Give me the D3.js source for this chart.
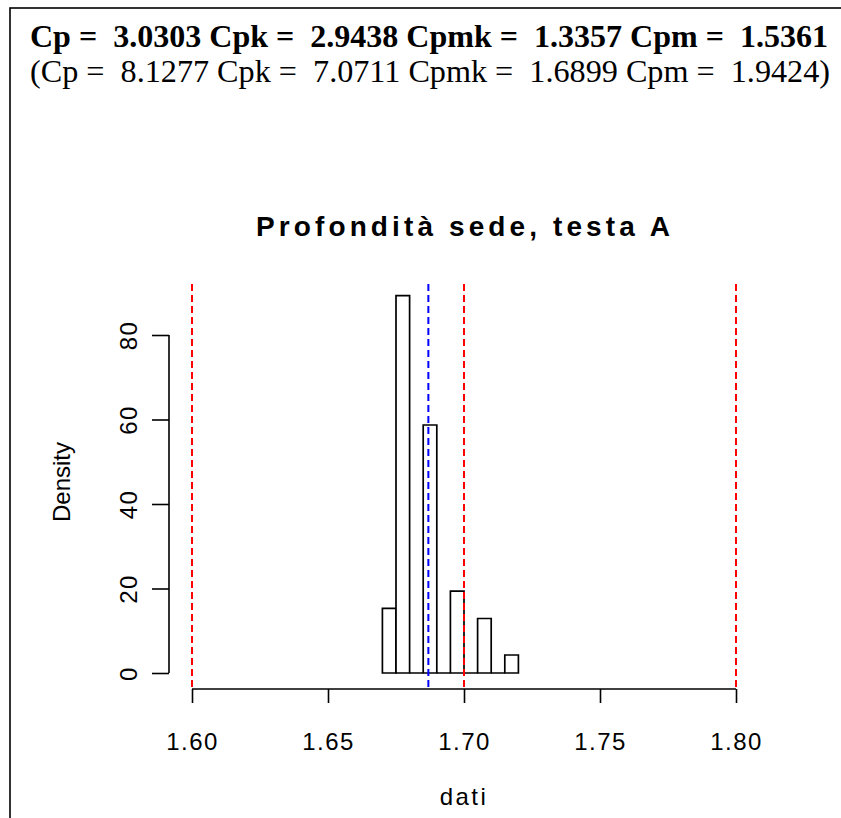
<!DOCTYPE html>
<html>
<head>
<meta charset="utf-8">
<script src="https://cdn.jsdelivr.net/npm/d3@7"></script>
<style>
  html, body { margin: 0; padding: 0; background: #fff; }
  svg { display: block; }
</style>
</head>
<body>
<svg id="chart" width="841" height="818"></svg>
<script>
// Histogram bins (lower edges) and their densities
const binStarts = [1.670, 1.675, 1.680, 1.685, 1.690, 1.695, 1.700, 1.705, 1.710, 1.715];
const binWidth = 0.005;
const densities = [15.3, 89.3, 0, 58.7, 0, 19.4, 0, 12.9, 0, 4.26];

// Specification limits and target (red), process mean (blue)
const specLines = [1.60, 1.70, 1.80];
const meanLine = [1.6869];

// Axis ticks
const xTicks = [1.60, 1.65, 1.70, 1.75, 1.80];
const yTicks = [0, 20, 40, 60, 80];

// Capability indices shown in the header
const headerLine1 = "Cp =  3.0303 Cpk =  2.9438 Cpmk =  1.3357 Cpm =  1.5361";
const headerLine2 = "(Cp =  8.1277 Cpk =  7.0711 Cpmk =  1.6899 Cpm =  1.9424)";
const title = "Profondità sede, testa A";
const xLabel = "dati";
const yLabel = "Density";

const svg = d3.select("#chart");

// Outer frame
svg.append("rect")
  .attr("x", 10).attr("y", 8)
  .attr("width", 900).attr("height", 900)
  .attr("fill", "none").attr("stroke", "#000").attr("stroke-width", 1.6);

// Header text
const serif = "'Liberation Serif', 'Times New Roman', serif";
svg.append("text")
  .attr("x", 30).attr("y", 47)
  .attr("font-family", serif)
  .attr("font-weight", "bold").attr("font-size", 31)
  .attr("textLength", 798).attr("lengthAdjust", "spacingAndGlyphs")
  .style("white-space", "pre")
  .text(headerLine1);
svg.append("text")
  .attr("x", 30).attr("y", 82)
  .attr("font-family", serif)
  .attr("font-size", 31)
  .attr("textLength", 800).attr("lengthAdjust", "spacingAndGlyphs")
  .style("white-space", "pre")
  .text(headerLine2);

// Scales
const x = d3.scaleLinear().domain([1.60, 1.80]).range([192, 736]);
const y = d3.scaleLinear().domain([0, 80]).range([673, 335]);
const plotTop = 284, plotBottom = 689;

const sans = "'Liberation Sans', Arial, Helvetica, sans-serif";

// Title
svg.append("text")
  .attr("x", 463).attr("y", 236)
  .attr("text-anchor", "middle")
  .attr("font-family", sans).attr("font-weight", "bold").attr("font-size", 28)
  .attr("textLength", 414).attr("lengthAdjust", "spacing")
  .text(title);

// Histogram bars (drawn as outlines so empty bins show as a baseline segment)
svg.append("g").selectAll("path")
  .data(binStarts.map((b, i) => ({ x0: b, x1: b + binWidth, d: densities[i] })))
  .join("path")
  .attr("d", d => `M${x(d.x0)},${y(0)}V${y(d.d)}H${x(d.x1)}V${y(0)}Z`)
  .attr("fill", "#fff")
  .attr("stroke", "#000")
  .attr("stroke-width", 1.7);

// Reference lines
svg.append("g").selectAll("line")
  .data(specLines)
  .join("line")
  .attr("x1", d => x(d)).attr("x2", d => x(d))
  .attr("y1", plotTop).attr("y2", plotBottom)
  .attr("stroke", "#ff0000").attr("stroke-width", 2)
  .attr("stroke-dasharray", "7,4");
svg.append("g").selectAll("line")
  .data(meanLine)
  .join("line")
  .attr("x1", d => x(d)).attr("x2", d => x(d))
  .attr("y1", plotTop).attr("y2", plotBottom)
  .attr("stroke", "#0000ff").attr("stroke-width", 2)
  .attr("stroke-dasharray", "7,4");

// X axis
const xAxis = svg.append("g")
  .attr("transform", `translate(0,${plotBottom})`)
  .call(d3.axisBottom(x).tickValues(xTicks).tickFormat(d3.format(".2f"))
    .tickSize(14).tickSizeOuter(0).tickPadding(47));
xAxis.selectAll("path, line").attr("stroke", "#000").attr("stroke-width", 1.6);
xAxis.selectAll("text")
  .attr("font-family", sans).attr("font-size", 24)
  .attr("letter-spacing", 1.5).attr("fill", "#000").attr("dy", 0);
xAxis.select(".domain").attr("d", `M${x(1.60)},0H${x(1.80)}`);

// Y axis
const yAxis = svg.append("g")
  .attr("transform", "translate(169,0)")
  .call(d3.axisLeft(y).tickValues(yTicks).tickSize(17).tickSizeOuter(0));
yAxis.selectAll("path, line").attr("stroke", "#000").attr("stroke-width", 1.6);
yAxis.select(".domain").attr("d", `M0,${y(0)}V${y(80)}`);
yAxis.selectAll("text").remove();
yAxis.selectAll(".tick").append("text")
  .attr("transform", "translate(-32,0) rotate(-90)")
  .attr("text-anchor", "middle")
  .attr("font-family", sans).attr("font-size", 24)
  .attr("letter-spacing", 1.5).attr("fill", "#000")
  .text(d => d);

// Axis titles
svg.append("text")
  .attr("x", 464).attr("y", 805)
  .attr("text-anchor", "middle")
  .attr("font-family", sans).attr("font-size", 24).attr("letter-spacing", 2.5)
  .text(xLabel);
svg.append("text")
  .attr("transform", "translate(70,482) rotate(-90)")
  .attr("text-anchor", "middle")
  .attr("font-family", sans).attr("font-size", 24)
  .text(yLabel);
</script>
</body>
</html>
